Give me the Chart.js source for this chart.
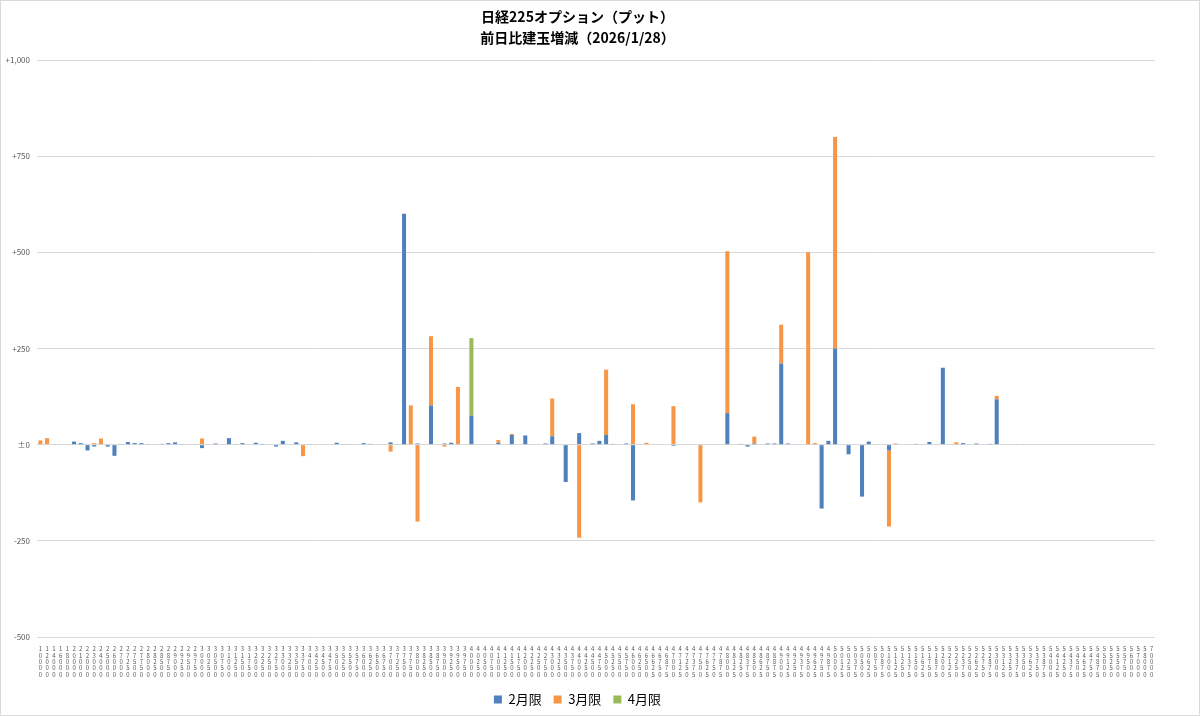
<!DOCTYPE html>
<html>
<head>
<meta charset="utf-8">
<script src="https://cdn.jsdelivr.net/npm/chart.js@4/dist/chart.umd.min.js"></script>
<style>
  html, body { margin: 0; padding: 0; background: #fff; }
  #wrap { width: 1200px; height: 716px; }
</style>
</head>
<body>
<div id="wrap"><canvas id="c" width="1200" height="716"></canvas></div>
<script>
// Strike prices (categories)
const strikes = [
  10000,12000,14000,16000,18000,20000,21000,22000,23000,24000,
  25000,26000,27000,27250,27500,27750,28000,28250,28500,28750,
  29000,29250,29500,29750,30000,30250,30500,30750,31000,31250,
  31500,31750,32000,32250,32500,32750,33000,33250,33500,33750,
  34000,34250,34500,34750,35000,35250,35500,35750,36000,36250,
  36500,36750,37000,37250,37500,37750,38000,38250,38500,38750,
  39000,39250,39500,39750,40000,40250,40500,40750,41000,41250,
  41500,41750,42000,42250,42500,42750,43000,43250,43500,43750,
  44000,44250,44500,44750,45000,45250,45500,45750,46000,46250,
  46500,46625,46750,46875,47000,47125,47250,47375,47500,47625,
  47750,47875,48000,48125,48250,48375,48500,48625,48750,48875,
  49000,49125,49250,49375,49500,49625,49750,49875,50000,50125,
  50250,50375,50500,50625,50750,50875,51000,51125,51250,51375,
  51500,51625,51750,51875,52000,52125,52250,52375,52500,52625,
  52750,52875,53000,53125,53250,53375,53500,53625,53750,53875,
  54000,54125,54250,54375,54500,54625,54750,54875,55000,55250,
  55500,55750,56000,57000,58000,70000
];

// 2月限
const feb = [
  0,0,1,0,0,8,4,-15,-5,0,
  -5,-29,1,7,4,4,1,0,2,4,
  6,1,0,1,-9,0,3,0,17,1,
  4,0,5,2,0,-5,10,0,6,0,
  1,0,0,0,5,1,1,0,4,2,
  0,0,6,1,600,0,3,0,102,0,
  3,5,0,0,75,0,0,0,5,0,
  25,0,24,0,0,3,22,0,-97,0,
  30,0,3,10,25,2,0,3,-145,0,
  0,0,0,0,-3,0,0,0,-2,0,
  0,0,82,0,2,-5,3,0,3,3,
  211,3,0,0,0,0,-166,10,250,0,
  -25,0,-135,8,0,0,-15,0,0,0,
  2,0,7,0,200,0,0,4,0,3,
  0,2,118,0,0,1,1,0,0,0,
  0,0,0,0,0,0,0,0,0,0,
  0,0,0,0,0,0
];

// 3月限
const mar = [
  11,17,0,0,0,0,0,0,4,16,
  0,0,0,0,0,0,0,0,0,0,
  0,0,0,0,16,0,0,0,0,0,
  0,0,0,0,0,0,0,0,0,-30,
  0,0,0,0,0,0,0,0,0,0,
  0,0,-18,0,0,102,-200,0,180,0,
  -5,0,150,0,0,0,0,0,7,0,
  3,0,0,0,0,0,98,0,0,0,
  -242,0,0,0,170,0,0,0,105,0,
  5,0,0,0,100,0,0,0,-148,0,
  0,0,421,0,0,0,18,0,0,0,
  101,0,0,0,500,4,0,0,550,0,
  0,0,0,0,0,0,-198,3,0,0,
  0,0,0,0,0,0,6,0,0,0,
  0,0,9,0,0,0,0,0,0,0,
  0,0,0,0,0,0,0,0,0,0,
  0,0,0,0,0,0
];

// 4月限
const apr = [
  0,0,0,0,0,0,0,0,0,0,
  0,0,0,0,0,0,0,0,0,0,
  0,0,0,0,0,0,0,0,0,0,
  0,0,0,0,0,0,0,0,0,0,
  0,0,0,0,0,0,0,0,0,0,
  0,0,0,0,0,0,0,0,0,0,
  0,0,0,0,202,0,0,0,0,0,
  0,0,0,0,0,0,0,0,0,0,
  0,0,0,0,0,0,0,0,0,0,
  0,0,0,0,0,0,0,0,0,0,
  0,0,0,0,0,0,0,0,0,0,
  0,0,0,0,0,0,0,0,0,0,
  0,0,0,0,0,0,0,0,0,0,
  0,0,0,0,0,0,0,0,0,0,
  0,0,0,0,0,0,0,0,0,0,
  0,0,0,0,0,0,0,0,0,0,
  0,0,0,0,0,0
];

const seriesNames = ['2月限', '3月限', '4月限'];
const titleLines = ['日経225オプション（プット）', '前日比建玉増減（2026/1/28）'];
const yTicks = [-500, -250, 0, 250, 500, 750, 1000];

const FONT = '"Noto Sans CJK JP", "Noto Sans", sans-serif';
Chart.defaults.font.family = FONT;

const borderPlugin = {
  id: 'outerBorder',
  beforeDraw(chart) {
    const ctx = chart.ctx;
    ctx.save();
    ctx.fillStyle = '#ffffff';
    ctx.fillRect(0, 0, chart.width, chart.height);
    ctx.restore();
  },
  afterDraw(chart) {
    const ctx = chart.ctx;
    ctx.save();
    ctx.strokeStyle = '#d9d9d9';
    ctx.lineWidth = 1;
    ctx.strokeRect(0.5, 0.5, chart.width - 1, chart.height - 1);
    ctx.restore();
  }
};

new Chart(document.getElementById('c'), {
  type: 'bar',
  data: {
    labels: strikes.map(String),
    datasets: [
      { label: seriesNames[0], data: feb, backgroundColor: '#4F81BD', barPercentage: 0.6, categoryPercentage: 1.0 },
      { label: seriesNames[1], data: mar, backgroundColor: '#F79646', barPercentage: 0.6, categoryPercentage: 1.0 },
      { label: seriesNames[2], data: apr, backgroundColor: '#9BBB59', barPercentage: 0.6, categoryPercentage: 1.0 }
    ]
  },
  options: {
    responsive: false,
    animation: false,
    layout: { padding: { left: 0, right: 45, top: 0, bottom: 0 } },
    plugins: {
      title: {
        display: true,
        text: titleLines,
        color: '#000000',
        font: { size: 14, weight: 'bold', family: FONT, lineHeight: 1.5 },
        padding: { top: 6, bottom: 12 }
      },
      legend: {
        position: 'bottom',
        labels: {
          color: '#000000',
          font: { size: 13, family: FONT },
          boxWidth: 8,
          boxHeight: 8,
          padding: 12
        }
      },
      tooltip: { enabled: false }
    },
    scales: {
      x: {
        stacked: true,
        grid: { display: false },
        border: { display: false },
        ticks: {
          autoSkip: false,
          maxRotation: 0,
          minRotation: 0,
          color: '#595959',
          font: { size: 6, lineHeight: 1.05 },
          padding: 1,
          callback: function (v, i) { return String(strikes[i]).split(''); }
        },
        afterFit: function (s) { s.height = 44; }
      },
      y: {
        stacked: true,
        min: yTicks[0],
        max: yTicks[yTicks.length - 1],
        afterBuildTicks: function (s) { s.ticks = yTicks.map(v => ({ value: v })); },
        grid: { color: '#d9d9d9', drawTicks: false },
        border: { display: false },
        ticks: {
          color: '#595959',
          font: { size: 8 },
          padding: 7,
          callback: function (v) {
            if (v === 0) return '±0';
            return (v > 0 ? '+' : '') + v.toLocaleString('en-US');
          }
        },
        afterFit: function (s) { s.width = 37; }
      }
    }
  },
  plugins: [borderPlugin]
});
</script>
</body>
</html>
